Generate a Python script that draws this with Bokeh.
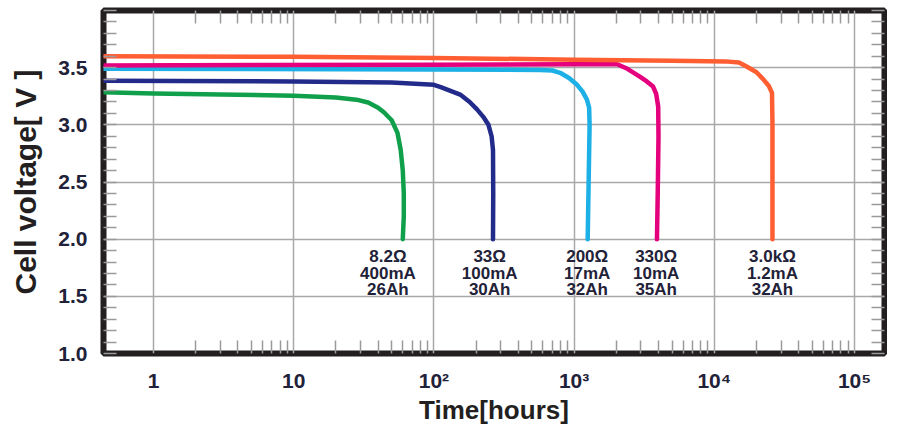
from bokeh.plotting import figure
from bokeh.models import (FixedTicker, LinearAxis, LogAxis, Range1d,
                          PrintfTickFormatter, ColumnDataSource)
from bokeh.core.properties import value
from bokeh.embed import file_html
from bokeh.resources import INLINE

# ---------------- data ----------------
green_t = [0.43, 1, 3, 10, 20, 28, 34, 40, 44, 50, 55, 58, 60, 61, 61, 60]
green_v = [3.285, 3.275, 3.265, 3.255, 3.24, 3.22, 3.195, 3.15, 3.11, 3.04, 2.93, 2.78, 2.6, 2.4, 2.2, 2.0]

navy_t = [0.43, 10, 50, 100, 112, 130, 154, 180, 203, 225, 245, 258, 264, 265, 264]
navy_v = [3.385, 3.38, 3.37, 3.35, 3.33, 3.30, 3.265, 3.20, 3.135, 3.07, 3.0, 2.9, 2.78, 2.4, 2.0]

blue_t = [0.43, 100, 570, 700, 795, 920, 1050, 1150, 1235, 1280, 1290, 1270, 1250]
blue_v = [3.49, 3.485, 3.48, 3.475, 3.455, 3.41, 3.35, 3.29, 3.22, 3.15, 3.0, 2.5, 2.0]

magenta_t = [0.43, 100, 1000, 2030, 2400, 2960, 3300, 3660, 3850, 3980, 4000, 3950, 3900]
magenta_v = [3.52, 3.525, 3.53, 3.53, 3.49, 3.42, 3.38, 3.335, 3.27, 3.16, 2.9, 2.4, 2.0]

orange_t = [0.43, 10, 100, 1000, 5000, 12000, 15000, 17000, 20000, 22300, 24500, 25800, 26000, 26000]
orange_v = [3.60, 3.595, 3.585, 3.57, 3.56, 3.555, 3.545, 3.51, 3.46, 3.40, 3.34, 3.28, 3.0, 2.0]

label_t = [47, 250, 1240, 3850, 26000]
label_text = ["8.2\u03a9\n400mA\n26Ah", "33\u03a9\n100mA\n30Ah", "200\u03a9\n17mA\n32Ah",
              "330\u03a9\n10mA\n35Ah", "3.0k\u03a9\n1.2mA\n32Ah"]
LABEL_V = 1.93

x_ticks = [1, 10, 100, 1000, 10000, 100000]
x_tick_labels = ["1", "10", "10\u00b2", "10\u00b3", "10\u2074", "10\u2075"]
x_minor = [d * m for d in [1, 10, 100, 1000, 10000] for m in range(2, 10)]
y_ticks = [1.0, 1.5, 2.0, 2.5, 3.0, 3.5]
y_minor = [round(1.0 + 0.1 * i, 1) for i in range(31)]

X_MIN, X_MAX = 0.44, 163700
Y_MIN, Y_MAX = 1.0, 4.0

FONT = "Liberation Sans"
TXT = "#1f2238"

p = figure(width=887, height=427, x_axis_type="log",
           x_range=Range1d(X_MIN, X_MAX), y_range=Range1d(Y_MIN, Y_MAX),
           output_backend="svg", toolbar_location=None,
           min_border_left=103, min_border_right=3, min_border_top=10, min_border_bottom=70)
p.background_fill_color = "white"
p.border_fill_color = "white"
p.outline_line_color = "#231f20"
p.outline_line_width = 6

bottom_ax = p.below[0]
left_ax = p.left[0]

xt = FixedTicker(ticks=x_ticks, minor_ticks=x_minor)
yt = FixedTicker(ticks=y_ticks, minor_ticks=y_minor)
bottom_ax.ticker = xt
left_ax.ticker = yt
bottom_ax.major_label_overrides = {t: lab for t, lab in zip(x_ticks, x_tick_labels)}
left_ax.formatter = PrintfTickFormatter(format="%.1f")

right_ax = LinearAxis(ticker=yt)
top_ax = LogAxis(ticker=xt)
p.add_layout(right_ax, "right")
p.add_layout(top_ax, "above")

for ax in [bottom_ax, left_ax, right_ax, top_ax]:
    ax.axis_line_color = None
    ax.major_tick_in = 0
    ax.major_tick_out = 0
    ax.minor_tick_in = 13
    ax.minor_tick_out = 0
    ax.minor_tick_line_color = "#9a9a9a"
    ax.minor_tick_line_width = 1.5
    ax.major_label_text_font = FONT
    ax.major_label_text_font_style = "bold"
    ax.major_label_text_color = TXT
    ax.major_label_text_font_size = "21px"

for ax in [right_ax, top_ax]:
    ax.major_label_text_font_size = "1px"
    ax.major_label_text_color = None
    ax.major_label_standoff = 0

bottom_ax.major_label_standoff = 15
left_ax.major_label_standoff = 16

bottom_ax.axis_label = "Time[hours]"
left_ax.axis_label = "Cell voltage[ V ]"
for ax, sz, so in [(bottom_ax, "26px", 0), (left_ax, "30px", 13)]:
    ax.axis_label_text_font = FONT
    ax.axis_label_text_font_style = "bold"
    ax.axis_label_text_font_size = sz
    ax.axis_label_text_color = "#231f20"
    ax.axis_label_standoff = so

p.xgrid.grid_line_color = "#a8a8a8"
p.ygrid.grid_line_color = "#a8a8a8"
p.xgrid.grid_line_width = 1.5
p.ygrid.grid_line_width = 1.5

series = [
    (blue_t, blue_v, "#1cb0e6"),
    (navy_t, navy_v, "#232b8a"),
    (green_t, green_v, "#10a04c"),
    (magenta_t, magenta_v, "#e5007d"),
    (orange_t, orange_v, "#ff5e33"),
]
for t, v, c in series:
    p.line(t, v, line_color=c, line_width=4.5, line_join="round", line_cap="round")

src = ColumnDataSource(dict(x=label_t, y=[LABEL_V] * len(label_t), text=label_text))
p.text(x="x", y="y", text="text", source=src, text_align="center", text_baseline="top",
       text_font=value(FONT), text_font_style="bold", text_font_size="17px",
       text_line_height=0.87, text_color=TXT)

open("out.html", "w").write(file_html(p, INLINE))
